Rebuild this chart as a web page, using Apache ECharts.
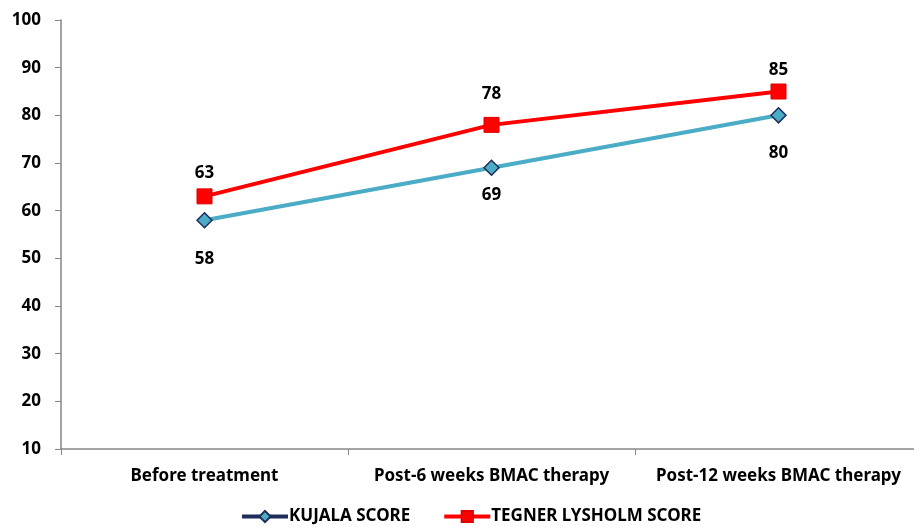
<!DOCTYPE html>
<html><head><meta charset="utf-8">
<script src="https://cdn.jsdelivr.net/npm/echarts@6/dist/echarts.min.js"></script>
<style>html,body{margin:0;padding:0;background:#fff}#c{width:914px;height:528px}</style>
</head><body><div id="c"></div>
<script>
const categories = ['Before treatment', 'Post-6 weeks BMAC therapy', 'Post-12 weeks BMAC therapy'];
const kujala = [58, 69, 80];
const tegner = [63, 78, 85];
const yTicks = { min: 10, max: 100, interval: 10 };

const font = '"Noto Sans", sans-serif';
const fs = 17;
const kujalaLabelDist = [22, 11, 21];
const tegnerLabelDist = [7, 14, 5];
const chart = echarts.init(document.getElementById('c'), null, { renderer: 'canvas' });
chart.setOption({
  animation: false,
  grid: { left: 61, right: -8, top: 20, bottom: 79, outerBoundsMode: 'none', containLabel: false },
  legend: {
    top: 508, left: 240, padding: 0, itemGap: 32, itemWidth: 46, itemHeight: 14,
    textStyle: { fontFamily: font, fontWeight: 'bold', fontSize: fs, color: '#000', padding: [0, 0, 0, -4] },
    data: [
      { name: 'KUJALA SCORE', lineStyle: { color: '#1F2D5A', width: 4 } },
      { name: 'TEGNER LYSHOLM SCORE', lineStyle: { color: '#FF0000', width: 4 } }
    ]
  },
  xAxis: {
    type: 'category', data: categories, boundaryGap: true,
    axisLine: { lineStyle: { color: '#868686', width: 1.5 } },
    axisTick: { show: true, length: 6, lineStyle: { color: '#868686' } },
    axisLabel: { interval: 0, hideOverlap: false, margin: 19, fontFamily: font, fontWeight: 'bold', fontSize: fs, color: '#000' }
  },
  yAxis: {
    type: 'value', min: yTicks.min, max: yTicks.max, interval: yTicks.interval,
    splitLine: { show: false },
    axisLine: { show: true, lineStyle: { color: '#868686', width: 1.5 } },
    axisTick: { show: true, length: 6, lineStyle: { color: '#868686' } },
    axisLabel: { margin: 20, fontFamily: font, fontWeight: 'bold', fontSize: fs, color: '#000' }
  },
  series: [
    {
      name: 'KUJALA SCORE', type: 'line',
      data: kujala.map((v, i) => ({ value: v, label: { distance: kujalaLabelDist[i] } })),
      symbol: 'diamond', symbolSize: 15,
      lineStyle: { color: '#4BACC6', width: 4 },
      itemStyle: { color: '#4BACC6', borderColor: '#1F2D5A', borderWidth: 1.5 },
      label: { show: true, position: 'bottom', fontFamily: font, fontWeight: 'bold', fontSize: fs, color: '#000' }
    },
    {
      name: 'TEGNER LYSHOLM SCORE', type: 'line',
      data: tegner.map((v, i) => ({ value: v, label: { distance: tegnerLabelDist[i] } })),
      symbol: 'rect', symbolSize: 15,
      lineStyle: { color: '#FF0000', width: 4 },
      itemStyle: { color: '#FF0000', borderColor: '#E00000', borderWidth: 1 },
      label: { show: true, position: 'top', fontFamily: font, fontWeight: 'bold', fontSize: fs, color: '#000' }
    }
  ]
});
</script></body></html>
